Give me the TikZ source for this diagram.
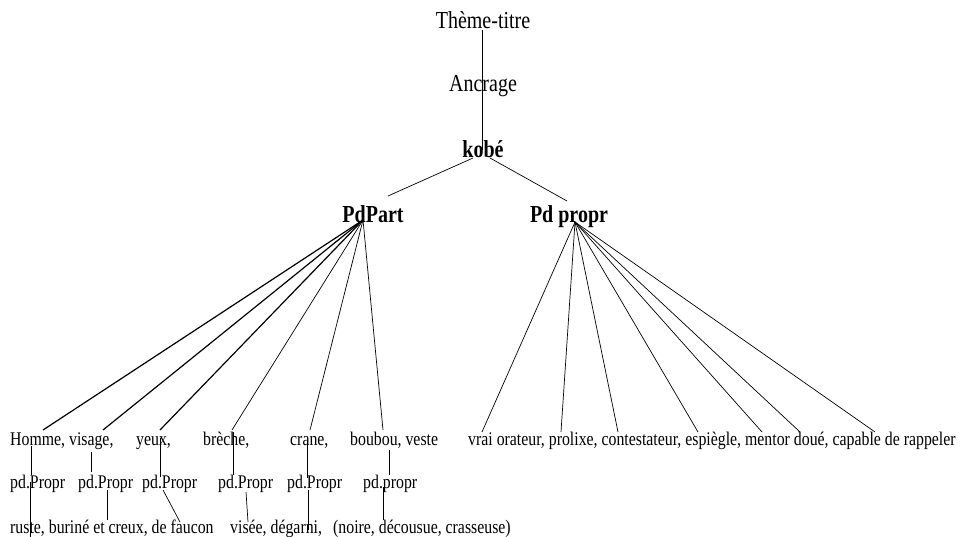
\documentclass[tikz,border=0pt]{standalone}
\usepackage{fontspec}
\setmainfont{Liberation Serif}[FakeStretch=0.82]
\usetikzlibrary{positioning,calc}
\tikzset{
    word/.style = {
        inner sep=0pt,
        anchor=base west,
        font=\fontsize{19.3}{22}\selectfont,
        },
    head/.style = {
        inner sep=0pt,
        anchor=base,
        font=\fontsize{24.4}{28}\selectfont,
        },
    head bold/.style = {
        head,
        font=\fontsize{24.4}{28}\selectfont\bfseries,
        },
    branch/.style = {
        draw=black,
        line width=0.7pt,
        },
    branch thick/.style = {
        draw=black,
        line width=1.2pt,
        },
}

\begin{document}
\begin{tikzpicture}[x=1pt,y=-1pt]
    \useasboundingbox (0,0) rectangle (960,537);

    % tête de l'arbre
    \node[head] (theme) at (483,29) {Thème-titre};
    \node[head] (ancrage) at (483,92) {Ancrage};
    \node[head bold] (kobe) at (483,158) {kobé};
    \node[head bold] (pdpart) at (373,223) {PdPart};
    \node[head bold] (pdpropr) at (569,223) {Pd propr};

    % première ligne
    \node[word] (homme) at (10,445) {Homme, visage,};
    \node[word] (yeux) at (136,445) {yeux,};
    \node[word] (breche) at (203,445) {brèche,};
    \node[word] (crane) at (290,445) {crane,};
    \node[word] (boubou) at (350,445) {boubou, veste};
    \node[word] (qualites) at (468,445) {vrai orateur, prolixe, contestateur, espiègle, mentor doué, capable de rappeler};

    % deuxième ligne
    \node[word] (pd1) at (10,488) {pd.Propr};
    \node[word] (pd2) at (78,488) {pd.Propr};
    \node[word] (pd3) at (142,488) {pd.Propr};
    \node[word] (pd4) at (218,488) {pd.Propr};
    \node[word] (pd5) at (287,488) {pd.Propr};
    \node[word] (pd6) at (363,488) {pd.propr};

    % troisième ligne
    \node[word] (ruste) at (10,533) {ruste, buriné et creux, de faucon};
    \node[word] (visee) at (230,533) {visée, dégarni,};
    \node[word] (noire) at (333,533) {(noire, décousue, crasseuse)};

    % points d'attache
    \coordinate (theme-s) at (482,30);
    \coordinate (kobe-n) at (482,150);
    \coordinate (kobe-l) at (473,158);
    \coordinate (kobe-r) at (490,158);
    \coordinate (pdpart-n) at (388,196);
    \coordinate (pdpropr-n) at (567,201);
    \coordinate (pdpart-s) at (363,220);
    \coordinate (pdpropr-s) at (575,222);
    \foreach \n/\x in {1/43,2/103,3/160,4/232,5/310,6/383}
        \coordinate (part-\n) at (\x,430);
    \foreach \n/\x in {1/482,2/561,3/618,4/698,5/762,6/800,7/875}
        \coordinate (propr-\n) at (\x,432);
    \foreach \n/\xa/\ya/\xb/\yb in {1/31/446/31/475,2/91/452/91/472,3/160/438/160/477,
                                    4/233/432/233/475,5/307/440/307/478,6/389/450/389/475}{
        \coordinate (up-\n) at (\xa,\ya);
        \coordinate (mid-\n) at (\xb,\yb);
    }
    \foreach \n/\xa/\ya/\xb/\yb in {1/30/482/30/537,2/107/490/107/520,3/163/490/180/522,
                                    4/246/492/248/522,5/308/490/308/530,6/383/487/383/520}{
        \coordinate (top-\n) at (\xa,\ya);
        \coordinate (low-\n) at (\xb,\yb);
    }

    \path (theme-s) edge[branch] (kobe-n);
    \path (kobe-l) edge[branch] (pdpart-n);
    \path (kobe-r) edge[branch] (pdpropr-n);
    \foreach \n in {1,2,3}
        \path (pdpart-s) edge[branch thick] (part-\n);
    \foreach \n in {4,5,6}
        \path (pdpart-s) edge[branch] (part-\n);
    \foreach \n in {1,...,7}
        \path (pdpropr-s) edge[branch] (propr-\n);
    \foreach \n in {1,...,6}{
        \path (up-\n) edge[branch] (mid-\n);
        \path (top-\n) edge[branch] (low-\n);
    }
\end{tikzpicture}
\end{document}
